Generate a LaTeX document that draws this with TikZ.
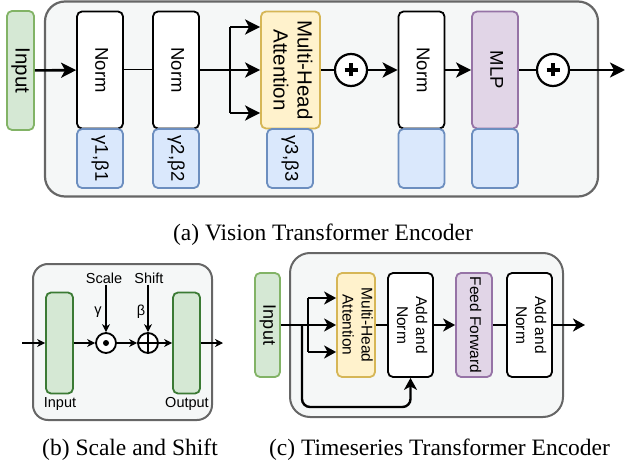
\documentclass[tikz,border=0pt]{standalone}
\usepackage{fontspec}
\setmainfont{Liberation Serif}
\setsansfont{Liberation Sans}
\usepackage{graphicx}
\usepackage{tikz}
\usetikzlibrary{arrows.meta}

\definecolor{boxfill}{HTML}{F5F7F7}
\definecolor{boxline}{HTML}{666666}
\definecolor{greenfill}{HTML}{D5E8D4}
\definecolor{greenline}{HTML}{82B366}
\definecolor{darkgreen}{HTML}{3B7A34}
\definecolor{yellowfill}{HTML}{FFF2CC}
\definecolor{yellowline}{HTML}{D6B656}
\definecolor{purplefill}{HTML}{E1D5E7}
\definecolor{purpleline}{HTML}{9673A6}
\definecolor{bluefill}{HTML}{DAE8FC}
\definecolor{blueline}{HTML}{6C8EBF}

% text turned a quarter clockwise, one or more lines
\newcommand{\vlabel}[1]{\rotatebox{-90}{\begin{tabular}{@{}c@{}}#1\end{tabular}}}

\begin{document}
\begin{tikzpicture}[x=1pt, y=-1pt,
    outer/.style ={draw=boxline, fill=boxfill, line width=2.2pt, rounded corners=20pt},
    block/.style ={draw, line width=1.8pt, rounded corners=5pt, inner sep=0pt},
    vfont/.style ={font=\sffamily\fontsize{18.5}{23}\selectfont},
    vbig/.style ={font=\sffamily\fontsize{20.5}{24}\selectfont},
    tfont/.style ={font=\sffamily\fontsize{15.5}{19}\selectfont},
    sfont/.style ={font=\sffamily\fontsize{14.5}{17}\selectfont, inner sep=1pt},
    inputbox/.style ={block, draw=greenline, fill=greenfill},
    normbox/.style ={block, draw=black, fill=white},
    attnbox/.style ={block, draw=yellowline, fill=yellowfill},
    mlpbox/.style ={block, draw=purpleline, fill=purplefill},
    parbox/.style ={block, draw=blueline, fill=bluefill},
    vblock/.style ={minimum width=46, minimum height=117, vfont},
    vpar/.style ={parbox, minimum width=46, minimum height=59, vfont},
    tblock/.style ={minimum height=104, tfont},
    sgreen/.style ={block, draw=darkgreen, fill=greenfill, minimum width=27, minimum height=101},
    sumnode/.style ={circle, draw, fill=white, line width=2.2pt, minimum size=32, inner sep=0pt,
      path picture={\draw[black, line width=3.4pt]
        ([xshift=-6.5pt]path picture bounding box.center) -- ([xshift=6.5pt]path picture bounding box.center)
        ([yshift=-6.5pt]path picture bounding box.center) -- ([yshift=6.5pt]path picture bounding box.center);}},
    mulnode/.style ={circle, draw, fill=white, line width=1.8pt, minimum size=20, inner sep=0pt,
      path picture={\fill[black] (path picture bounding box.center) circle (3pt);}},
    addnode/.style ={circle, draw, fill=white, line width=1.8pt, minimum size=20, inner sep=0pt,
      path picture={\draw[black, line width=1.8pt]
        (path picture bounding box.west) -- (path picture bounding box.east)
        (path picture bounding box.north) -- (path picture bounding box.south);}},
    bigline/.style ={line width=2.6pt},
    bigarrow/.style ={bigline, -{Stealth[length=15pt, width=15pt, inset=4pt]}},
    midline/.style ={line width=2.4pt},
    midarrow/.style ={midline, -{Stealth[length=12pt, width=13pt, inset=3.5pt]}},
    smallarrow/.style ={line width=1.1pt, -{Stealth[length=8pt, width=8pt, inset=2.5pt]}},
    caption/.style ={font=\rmfamily\fontsize{23.5}{28}\selectfont}]

   \useasboundingbox (0,0) rectangle (626,465);

   % (a) vision transformer encoder
   \node[outer, minimum width=553, minimum height=195] (VBox) at (321.5,99) {};
   \node[inputbox, minimum width=27, minimum height=119, vbig] (VIn) at (20.5,70.5) {\vlabel{Input}};
   \node[normbox, vblock] (VN1) at (100,70) {\vlabel{Norm}};
   \node[vpar] (VG1) at (100,158.5) {\vlabel{γ1,β1}};
   \node[normbox, vblock] (VN2) at (176,70) {\vlabel{Norm}};
   \node[vpar] (VG2) at (176,158.5) {\vlabel{γ2,β2}};
   \node[attnbox, vblock, vbig, minimum width=59] (VMHA) at (290.5,70) {\vlabel{Multi-Head\\Attention}};
   \node[vpar] (VG3) at (290,158.5) {\vlabel{γ3,β3}};
   \node[sumnode] (VP1) at (351,70) {};
   \node[normbox, vblock] (VN3) at (421.5,70) {\vlabel{Norm}};
   \node[vpar] (VG4) at (421.5,158.5) {};
   \node[mlpbox, vblock] (VMLP) at (495,70) {\vlabel{MLP}};
   \node[vpar] (VG5) at (495,158.5) {};
   \node[sumnode] (VP2) at (553,70) {};
   \coordinate (VForkT) at (230,27);
   \coordinate (VForkB) at (230,113);
   \coordinate (VOut) at (625,70);

   \draw[bigarrow] (VIn) to (VN1);
   \draw[line width=1pt] (VN1) to (VN2);
   \draw[bigarrow] (VN2) to (VMHA);
   \draw[bigline] (VForkT) to (VForkB);
   \draw[bigarrow] (VForkT) to (VForkT -| VMHA.west);
   \draw[bigarrow] (VForkB) to (VForkB -| VMHA.west);
   \draw[bigline] (VMHA) to (VP1);
   \draw[bigarrow] (VP1) to (VN3);
   \draw[bigarrow] (VN3) to (VMLP);
   \draw[bigline] (VMLP) to (VP2);
   \draw[bigarrow] (VP2) to (VOut);

   \node[caption] (CapA) at (323,235) {(a) Vision Transformer Encoder};

   % (b) scale and shift
   \node[outer, line width=2pt, rounded corners=15pt, minimum width=179, minimum height=156] (SBox) at (122.5,342) {};
   \node[sgreen] (SIn) at (59.5,343) {};
   \node[sgreen] (SOut) at (186.5,343) {};
   \node[sfont] (SInL) at (60,404) {Input};
   \node[sfont] (SOutL) at (187,404) {Output};
   \node[mulnode] (SMul) at (106,343) {};
   \node[addnode] (SAdd) at (148,343) {};
   \node[sfont] (SScale) at (104,278) {Scale};
   \node[sfont] (SShift) at (149,278) {Shift};
   \node[sfont] (SGamma) at (98,312) {γ};
   \node[sfont] (SBeta) at (141,312) {β};
   \coordinate (SStart) at (22,343);
   \coordinate (SEnd) at (223,343);

   \draw[smallarrow] (SStart) to (SIn);
   \draw[smallarrow] (SIn) to (SMul);
   \draw[smallarrow] (SMul) to (SAdd);
   \draw[smallarrow] (SAdd) to (SOut);
   \draw[smallarrow] (SOut) to (SEnd);
   \draw[smallarrow] (SScale.south -| SMul) to (SMul);
   \draw[smallarrow] (SShift.south -| SAdd) to (SAdd);

   \node[caption] (CapB) at (130,450) {(b) Scale and Shift};

   % (c) timeseries transformer encoder
   \node[outer, line width=2pt, minimum width=273, minimum height=164] (TBox) at (426.5,335) {};
   \node[inputbox, tblock, minimum width=25, font=\sffamily\fontsize{18}{21}\selectfont] (TIn) at (267.5,325) {\vlabel{Input}};
   \node[attnbox, tblock, minimum width=36] (TMHA) at (356,325) {\vlabel{Multi-Head\\Attention}};
   \node[normbox, tblock, minimum width=45] (TAN1) at (410.5,325) {\vlabel{Add and\\Norm}};
   \node[mlpbox, tblock, minimum width=36] (TFF) at (474,325) {\vlabel{Feed Forward}};
   \node[normbox, tblock, minimum width=45] (TAN2) at (529.5,325) {\vlabel{Add and\\Norm}};
   \coordinate (TForkT) at (308,298);
   \coordinate (TForkB) at (308,352);
   \coordinate (TRes) at (302,325);
   \coordinate (TResB) at (302,407);
   \coordinate (TOut) at (585,325);

   \draw[midarrow] (TIn) to (TMHA);
   \draw[midline] (TForkT) to (TForkB);
   \draw[midarrow] (TForkT) to (TForkT -| TMHA.west);
   \draw[midarrow] (TForkB) to (TForkB -| TMHA.west);
   \draw[midarrow, rounded corners=8pt] (TRes) -- (TResB) -| (TAN1.south);
   \draw[midline] (TMHA) to (TAN1);
   \draw[midarrow] (TAN1) to (TFF);
   \draw[midline] (TFF) to (TAN2);
   \draw[midarrow] (TAN2) to (TOut);

   \node[caption] (CapC) at (439.5,450) {(c) Timeseries Transformer Encoder};
 \end{tikzpicture}
\end{document}
